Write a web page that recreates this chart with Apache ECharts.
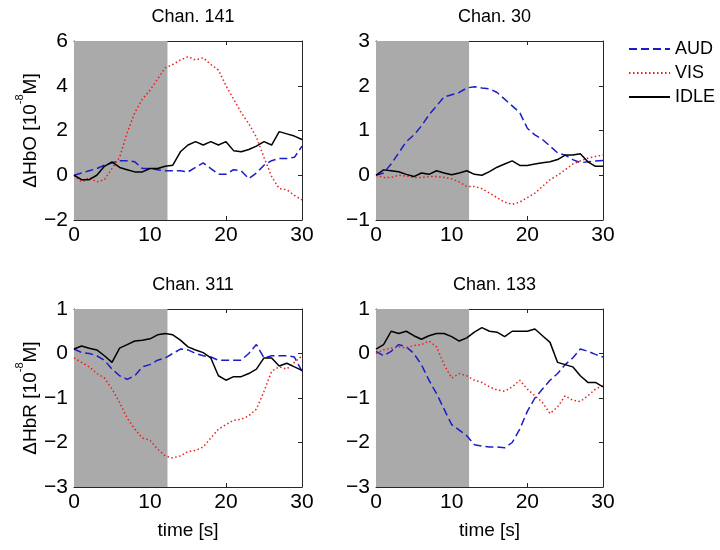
<!DOCTYPE html>
<html>
<head>
    <meta charset="UTF-8">
    <title></title>
    <script src="https://cdn.jsdelivr.net/npm/echarts@6/dist/echarts.min.js"></script>
</head>
<body style="margin:0;background:#fff;">
<div id="container" style="height:550px;width:720px;"></div>
<script>
    var dom = document.getElementById("container");
    var myChart = echarts.init(dom);

    // time axis in seconds
    var time = [0,1,2,3,4,5,6,7,8,9,10,11,12,13,14,15,16,17,18,19,20,21,22,23,24,25,26,27,28,29,30];
    var stimEnd = 12.3;   // end of the shaded stimulus window
    var titles = ['Chan. 141', 'Chan. 30', 'Chan. 311', 'Chan. 133'];
    var yRanges = [[-2, 6, 2], [-1, 3, 1], [-3, 1, 1], [-3, 1, 1]];

    // Chan. 141 (HbO)
    var aud141 = [0,0.1,0.2,0.3,0.45,0.55,0.65,0.65,0.6,0.3,0.3,0.25,0.2,0.2,0.2,0.15,0.35,0.55,0.3,0.05,0.05,0.25,0.2,-0.15,0.1,0.45,0.65,0.75,0.75,0.8,1.3];
    var vis141 = [0,-0.3,-0.1,-0.3,-0.2,0.3,0.8,1.9,2.8,3.4,3.8,4.3,4.8,4.95,5.15,5.3,5.15,5.25,4.95,4.7,4.0,3.4,2.8,2.3,1.7,0.8,-0.05,-0.6,-0.65,-0.9,-1.1];
    var idle141 = [0,-0.2,-0.2,0,0.4,0.6,0.35,0.25,0.15,0.15,0.3,0.3,0.4,0.45,1.05,1.35,1.5,1.35,1.5,1.35,1.5,1.1,1.05,1.15,1.3,1.5,1.35,1.95,1.85,1.75,1.6];

    // Chan. 30 (HbO)
    var aud30 = [0,0.05,0.25,0.5,0.75,0.9,1.1,1.35,1.55,1.75,1.8,1.85,1.95,1.98,1.95,1.93,1.85,1.7,1.55,1.4,1.05,0.9,0.8,0.65,0.5,0.45,0.35,0.28,0.3,0.32,0.33];
    var vis30 = [0,-0.05,-0.05,0,-0.02,-0.05,-0.05,-0.03,-0.03,-0.05,-0.08,-0.15,-0.25,-0.25,-0.3,-0.4,-0.5,-0.6,-0.65,-0.6,-0.5,-0.4,-0.25,-0.1,0,0.12,0.25,0.32,0.38,0.42,0.45];
    var idle30 = [0,0.12,0.1,0.08,0.02,-0.03,0.05,0.02,0.1,0.05,0.01,0.05,0.1,0.02,0,0.08,0.18,0.25,0.32,0.22,0.22,0.25,0.28,0.3,0.35,0.45,0.45,0.48,0.3,0.2,0.2];

    // Chan. 311 (HbR)
    var aud311 = [0.1,0.02,0,-0.05,-0.15,-0.35,-0.5,-0.58,-0.5,-0.3,-0.25,-0.15,-0.1,0,0.1,0.08,0,-0.05,-0.08,-0.15,-0.15,-0.15,-0.15,0,0.2,-0.1,-0.05,-0.05,-0.05,-0.08,-0.4];
    var vis311 = [-0.1,-0.2,-0.3,-0.45,-0.55,-0.8,-1.1,-1.45,-1.7,-1.9,-1.95,-2.15,-2.3,-2.35,-2.3,-2.2,-2.18,-2.1,-1.9,-1.7,-1.6,-1.5,-1.48,-1.4,-1.25,-0.85,-0.4,-0.3,-0.35,-0.2,-0.05];
    var idle311 = [0.1,0.17,0.12,0.08,-0.05,-0.2,0.12,0.2,0.28,0.3,0.33,0.42,0.45,0.42,0.3,0.15,0.08,0.02,-0.1,-0.5,-0.6,-0.52,-0.52,-0.45,-0.35,-0.1,-0.1,-0.28,-0.22,-0.3,-0.38];

    // Chan. 133 (HbR)
    var aud133 = [0.05,-0.05,0.05,0.2,0.15,0,-0.25,-0.6,-0.9,-1.25,-1.6,-1.72,-1.85,-2.05,-2.08,-2.1,-2.1,-2.12,-2.0,-1.7,-1.3,-1.0,-0.8,-0.6,-0.45,-0.25,-0.1,0.1,0.05,-0.02,-0.08];
    var vis133 = [0,0.08,0.12,0.15,0.12,0.18,0.2,0.28,0.15,-0.25,-0.55,-0.45,-0.5,-0.6,-0.65,-0.75,-0.82,-0.85,-0.75,-0.6,-0.8,-0.95,-1.1,-1.35,-1.2,-0.95,-1.05,-1.08,-0.95,-0.8,-0.72];
    var idle133 = [0.1,0.2,0.5,0.45,0.5,0.4,0.32,0.4,0.45,0.45,0.38,0.28,0.35,0.48,0.58,0.5,0.48,0.38,0.5,0.5,0.5,0.55,0.4,0.25,-0.2,-0.25,-0.3,-0.5,-0.65,-0.65,-0.75];

    var panels = [
        [aud141, vis141, idle141],
        [aud30, vis30, idle30],
        [aud311, vis311, idle311],
        [aud133, vis133, idle133]
    ];

    var grids = [
        {left: 74, top: 41, width: 228, height: 179},
        {left: 376, top: 41, width: 227, height: 179},
        {left: 74, top: 309, width: 228, height: 178},
        {left: 376, top: 309, width: 227, height: 178}
    ];

    var font = 'Liberation Sans, Arial, sans-serif';
    var lineCol = '#262626';
    var styles = {
        AUD: {color: '#1c1cc8', type: [8, 4]},
        VIS: {color: '#ee1c1c', type: [1.5, 2.5]},
        IDLE: {color: '#000000', type: 'solid'}
    };
    var names = ['AUD', 'VIS', 'IDLE'];

    function zip(a) {
        return time.map(function (t, i) { return [t, a[i]]; });
    }

    var xAxes = [], yAxes = [], series = [], title = [];
    var yName = [
        '{a|ΔHbO [10}{s|-8}{a|M]}', '', '{a|ΔHbR [10}{s|-8}{a|M]}', ''
    ];
    var rich = {
        a: {fontSize: 19, fontFamily: font, color: '#000', lineHeight: 26, verticalAlign: 'bottom'},
        s: {fontSize: 11, fontFamily: font, color: '#000', lineHeight: 26, verticalAlign: 'top'}
    };

    for (var i = 0; i < 4; i++) {
        var g = grids[i];
        title.push({
            text: titles[i],
            left: g.left + g.width / 2,
            top: g.top - 38,
            textAlign: 'center',
            textStyle: {fontSize: 18, fontWeight: 'normal', color: '#000', fontFamily: font}
        });
        xAxes.push({
            gridIndex: i, type: 'value', min: 0, max: 30, interval: 10,
            name: i >= 2 ? 'time [s]' : '',
            nameLocation: 'middle', nameGap: 34,
            nameTextStyle: {fontSize: 19, color: '#000', fontFamily: font},
            axisLine: {show: true, onZero: false, lineStyle: {color: lineCol, width: 1}},
            axisTick: {show: true, inside: true, length: 4, lineStyle: {color: lineCol}},
            axisLabel: {fontSize: 21, color: '#000', fontFamily: font, margin: 5},
            splitLine: {show: false}
        });
        yAxes.push({
            gridIndex: i, type: 'value', min: yRanges[i][0], max: yRanges[i][1], interval: yRanges[i][2],
            name: yName[i],
            nameLocation: 'middle', nameGap: 30, nameRotate: 90,
            nameTextStyle: {rich: rich},
            axisLine: {show: true, onZero: false, lineStyle: {color: lineCol, width: 1}},
            axisTick: {show: true, inside: true, length: 4, lineStyle: {color: lineCol}},
            axisLabel: {fontSize: 21, color: '#000', fontFamily: font, margin: 6,
                formatter: function (v) { return String(v).replace('-', '\u2212'); }},
            splitLine: {show: false}
        });
    }
    // mirrored axes (box with ticks on top and right)
    for (var i = 0; i < 4; i++) {
        xAxes.push({
            gridIndex: i, type: 'value', position: 'top', min: 0, max: 30, interval: 10,
            axisLine: {show: true, onZero: false, lineStyle: {color: lineCol, width: 1}},
            axisTick: {show: true, inside: true, length: 4, lineStyle: {color: lineCol}},
            axisLabel: {show: false}, splitLine: {show: false}
        });
        yAxes.push({
            gridIndex: i, type: 'value', position: 'right',
            min: yRanges[i][0], max: yRanges[i][1], interval: yRanges[i][2],
            axisLine: {show: true, onZero: false, lineStyle: {color: lineCol, width: 1}},
            axisTick: {show: true, inside: true, length: 4, lineStyle: {color: lineCol}},
            axisLabel: {show: false}, splitLine: {show: false}
        });
    }

    for (var i = 0; i < 4; i++) {
        // shaded stimulus period
        series.push({
            type: 'line', xAxisIndex: i, yAxisIndex: i, data: [], z: 1, silent: true,
            markArea: {
                silent: true,
                itemStyle: {color: '#aaaaaa'},
                data: [[{xAxis: 0}, {xAxis: stimEnd}]]
            }
        });
        for (var k = 0; k < 3; k++) {
            var s = styles[names[k]];
            series.push({
                name: names[k], type: 'line', xAxisIndex: i, yAxisIndex: i,
                data: zip(panels[i][k]), showSymbol: false, symbol: 'none',
                z: 3, animation: false,
                itemStyle: {color: s.color},
                lineStyle: {color: s.color, width: 1.5, type: s.type}
            });
        }
    }

    var option = {
        backgroundColor: '#fff',
        animation: false,
        title: title,
        legend: {
            data: names, orient: 'vertical', left: 623, top: 35,
            itemWidth: 41, itemHeight: 12, itemGap: 6,
            itemStyle: {opacity: 0},
            textStyle: {fontSize: 18, color: '#000', fontFamily: font}
        },
        grid: grids,
        xAxis: xAxes,
        yAxis: yAxes,
        series: series
    };
    myChart.setOption(option);
</script>
</body>
</html>
